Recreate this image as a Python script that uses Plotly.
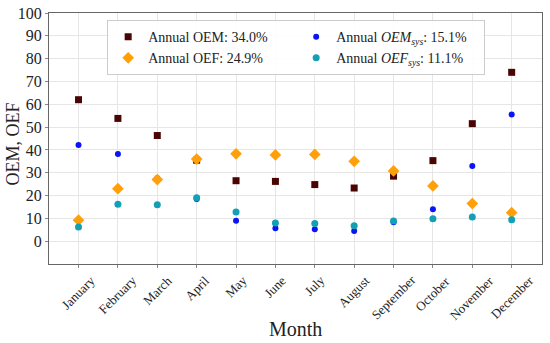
import plotly.graph_objects as go

months = ["January", "February", "March", "April", "May", "June", "July",
          "August", "September", "October", "November", "December"]
oem = [62.0, 53.8, 46.3, 35.5, 26.5, 26.2, 24.8, 23.3, 28.5, 35.3, 51.5, 74.0]
oef = [9.2, 23.0, 27.0, 36.0, 38.3, 37.8, 38.0, 35.0, 30.8, 24.2, 16.5, 12.5]
oem_sys = [42.2, 38.2, 27.6, 18.5, 9.0, 5.7, 5.2, 4.5, 8.3, 14.0, 33.0, 55.5]
oef_sys = [6.2, 16.2, 16.0, 19.0, 12.8, 8.0, 7.8, 6.8, 8.8, 9.8, 10.6, 9.4]
y_ticks = [0, 10, 20, 30, 40, 50, 60, 70, 80, 90, 100]

font_family = "Liberation Serif, DejaVu Serif, serif"
text_color = "#222222"
x_idx = list(range(len(months)))

fig = go.Figure()
fig.add_trace(go.Scatter(x=x_idx, y=oem, mode="markers", name="Annual OEM: 34.0%",
                         marker=dict(symbol="square", size=7, color="#4a0404")))
fig.add_trace(go.Scatter(x=x_idx, y=oem_sys, mode="markers",
                         name="Annual <i>OEM</i><sub><i>sys</i></sub>: 15.1%",
                         marker=dict(symbol="circle", size=6, color="#0a14f5")))
fig.add_trace(go.Scatter(x=x_idx, y=oef, mode="markers", name="Annual OEF: 24.9%",
                         marker=dict(symbol="diamond", size=9, color="#ffa00a")))
fig.add_trace(go.Scatter(x=x_idx, y=oef_sys, mode="markers",
                         name="Annual <i>OEF</i><sub><i>sys</i></sub>: 11.1%",
                         marker=dict(symbol="circle", size=7, color="#12a0b4")))

# Month labels, centred under each tick like rotated matplotlib labels
month_labels = [
    dict(text=m, x=i, xref="x", y=0, yref="paper", yshift=-6,
         xanchor="center", yanchor="top", textangle=-45, showarrow=False,
         font=dict(size=13, family=font_family, color=text_color))
    for i, m in zip(x_idx, months)
]

fig.update_layout(
    width=550, height=343,
    margin=dict(l=49, r=8, t=13, b=79),
    paper_bgcolor="white", plot_bgcolor="white",
    font=dict(family=font_family, size=14, color=text_color),
    showlegend=True,
    legend=dict(orientation="h", x=0.118, y=0.972, xanchor="left", yanchor="top",
                entrywidth=143, bgcolor="rgba(255,255,255,0.9)",
                bordercolor="#cccccc", borderwidth=1, tracegroupgap=0,
                font=dict(family=font_family, size=14, color=text_color)),
    xaxis=dict(tickmode="array", tickvals=x_idx, showticklabels=False,
               range=[-0.75, 11.77], showgrid=True, gridcolor="#e6e6e6",
               showline=True, linecolor="#666666", mirror=True, zeroline=False,
               ticks="outside", ticklen=3, tickcolor="#888888", automargin=False),
    yaxis=dict(tickvals=y_ticks, range=[-10, 100], showgrid=True, gridcolor="#e6e6e6",
               showline=True, linecolor="#666666", mirror=True, zeroline=False,
               ticks="outside", ticklen=3, tickcolor="#888888", automargin=False,
               ticklabeloverflow="allow",
               tickfont=dict(size=16, family=font_family, color=text_color)),
    annotations=month_labels + [
        dict(text="Month", xref="paper", yref="paper", x=0.5, y=-0.259,
             xanchor="center", yanchor="middle", showarrow=False,
             font=dict(size=20, family=font_family, color=text_color)),
        dict(text="OEM, OEF", xref="paper", yref="paper", x=-0.072, y=0.478,
             xanchor="center", yanchor="middle", showarrow=False, textangle=-90,
             font=dict(size=18, family=font_family, color=text_color)),
    ],
)

fig.write_html("out.html", config={"displayModeBar": False},
               post_script="document.body.style.margin='0px';"
                           "document.body.style.overflow='hidden';")
